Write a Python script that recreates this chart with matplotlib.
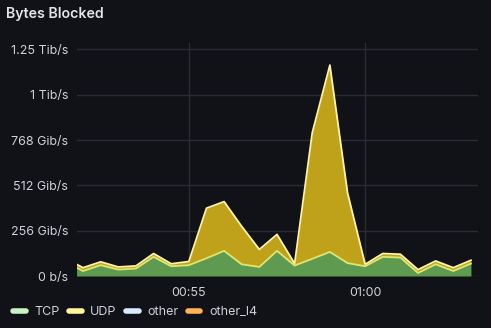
import numpy as np
import pandas as pd
import matplotlib
matplotlib.use("Agg")
import matplotlib.pyplot as plt
import matplotlib.dates as mdates
from matplotlib.lines import Line2D
from matplotlib.ticker import FixedLocator, FuncFormatter

plt.rcParams['font.family'] = ['Inter', 'DejaVu Sans']

# sample times (30 s steps, first sample sits on the left edge of the range)
times = pd.to_datetime(["2024-01-01 00:51:49"] + list(
    pd.date_range("2024-01-01 00:52:00", "2024-01-01 01:03:00", freq="30s").astype(str)))

# blocked traffic per protocol, Gib/s
tcp = [47, 28, 61, 36, 42, 108, 55, 61, 100, 142, 66, 51,
       142, 59, 97, 136, 73, 55, 108, 104, 17, 66, 28, 70]
udp = [19, 19, 19, 15, 15, 19, 14, 21, 283, 278, 214, 99,
       93, 11, 712, 1055, 397, 11, 19, 19, 19, 19, 19, 19]
other = [np.nan] * len(tcp)
other_l4 = [np.nan] * len(tcp)

series_names = ["TCP", "UDP", "other", "other_l4"]
legend_colors = ["#C8F2C2", "#FFF899", "#DCEBFF", "#FFB357"]

bg = "#111217"
grid_c = "#2A2C33"
text_c = "#D0D1D8"

fig = plt.figure(figsize=(4.91, 3.28), dpi=100, facecolor=bg)
ax = fig.add_axes([0.156, 0.1585, 0.8175, 0.7105], facecolor=bg)

tcp = np.array(tcp, dtype=float)
udp = np.array(udp, dtype=float)
top = tcp + udp

ax.fill_between(times, 0, tcp, color="#5E9B50", lw=0, zorder=2)
ax.fill_between(times, tcp, top, color="#C0A21A", lw=0, zorder=2)
ax.plot(times, tcp, color="#DDE874", lw=1.3, zorder=3)
ax.plot(times, top, color="#FFF3A8", lw=1.3, zorder=4)
ax.plot(times, np.array(other), color=legend_colors[2], lw=1.3, zorder=5)
ax.plot(times, np.array(other_l4), color=legend_colors[3], lw=1.3, zorder=5)

ax.set_xlim(pd.Timestamp("2024-01-01 00:51:49"), pd.Timestamp("2024-01-01 01:03:12"))
ax.set_ylim(0, 1316)

yticks = [0, 256, 512, 768, 1024, 1280]
ylabels = ["0 b/s", "256 Gib/s", "512 Gib/s", "768 Gib/s", "1 Tib/s", "1.25 Tib/s"]
ax.yaxis.set_major_locator(FixedLocator(yticks))
ax.yaxis.set_major_formatter(FuncFormatter(lambda v, p: ylabels[yticks.index(int(round(v)))]))
ax.xaxis.set_major_locator(mdates.MinuteLocator(byminute=[0, 55]))
ax.xaxis.set_major_formatter(mdates.DateFormatter("%H:%M"))

ax.grid(True, color=grid_c, lw=1, zorder=0)
for s in ax.spines.values():
    s.set_visible(False)
ax.tick_params(length=0, colors=text_c, labelsize=9)
ax.tick_params(axis="y", pad=6)
ax.tick_params(axis="x", pad=8)

fig.text(0.012, 0.957, "Bytes Blocked", color="#E4E5EA", fontsize=10.2,
         fontweight="semibold", va="center", ha="left")

handles = [Line2D([0], [0], color=c, lw=4, solid_capstyle="round") for c in legend_colors]
fig.legend(handles, series_names, loc="lower left", bbox_to_anchor=(0.004, -0.005),
           ncol=4, frameon=False, fontsize=9, labelcolor=text_c,
           handlelength=1.0, handletextpad=0.7, columnspacing=0.75)

fig.savefig("out.png", dpi=100, facecolor=bg)
